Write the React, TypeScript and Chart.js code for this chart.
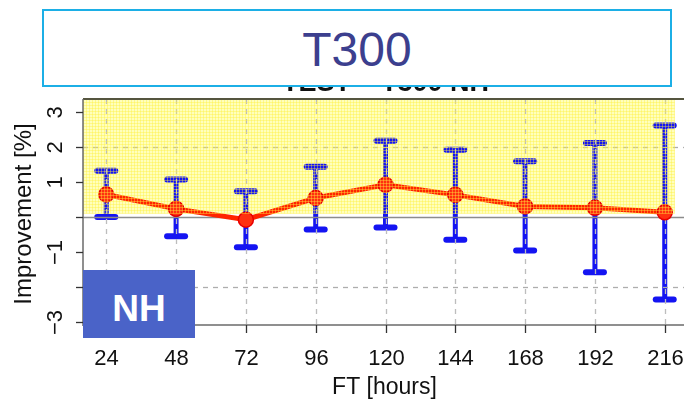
import React, { useEffect, useRef } from "react";
import { Chart, registerables } from "chart.js";

Chart.register(...registerables);

// Forecast lead times (hours) and the verification statistics per lead time
const forecastHours = [24, 48, 72, 96, 120, 144, 168, 192, 216];
const meanImprovement = [0.64, 0.23, -0.08, 0.54, 0.92, 0.63, 0.3, 0.26, 0.13];
const upperBound = [1.32, 1.07, 0.73, 1.43, 2.18, 1.92, 1.59, 2.11, 2.61];
const lowerBound = [0.0, -0.55, -0.87, -0.36, -0.3, -0.65, -0.96, -1.58, -2.36];

// Left-axis ticks; R drops the labels that would collide
const yTickValues = [3, 2, 1, 0, -1, -2, -3];
const yTickLabels = ["3", "2", "1", "", "\u22121", "", "\u22123"];
const dashedLevels = [2, -2];

const X_MIN = 16;
const X_MAX = 224;
const Y_MIN = -3.09;
const Y_MAX = 3.37;
const SHADE_X_END = 219.4;
const SHADE_Y_FLOOR = 0.1;

const FONT = "'Liberation Sans', Arial, Helvetica, sans-serif";

const panelPlugin = {
  id: "panel",
  beforeDatasetsDraw(chart: any) {
    const { ctx, chartArea: a, scales } = chart;
    const x = scales.x;
    const y = scales.y;
    ctx.save();

    // shaded "improvement" half of the panel
    const sl = a.left;
    const sr = x.getPixelForValue(SHADE_X_END);
    const sb = y.getPixelForValue(SHADE_Y_FLOOR);
    ctx.fillStyle = "#ffffbc";
    ctx.fillRect(sl, a.top, sr - sl, sb - a.top);

    // error bars
    ctx.strokeStyle = "#1414f2";
    ctx.lineCap = "round";
    const seg = (x1: number, y1: number, x2: number, y2: number) => {
      ctx.beginPath();
      ctx.moveTo(x1, y1);
      ctx.lineTo(x2, y2);
      ctx.stroke();
    };
    forecastHours.forEach((h, i) => {
      const px = x.getPixelForValue(h);
      const top = y.getPixelForValue(upperBound[i]);
      const bot = y.getPixelForValue(lowerBound[i]);
      ctx.lineWidth = 5;
      seg(px, top, px, bot);
      ctx.lineWidth = 6;
      seg(px - 9, top, px + 9, top);
      seg(px - 9, bot, px + 9, bot);
    });

    // grid
    ctx.lineCap = "butt";
    ctx.setLineDash([5, 5]);
    ctx.strokeStyle = "#bdbdbd";
    ctx.lineWidth = 1.3;
    forecastHours.forEach((h) => {
      const px = Math.round(x.getPixelForValue(h)) + 0.5;
      seg(px, a.top, px, a.bottom);
    });
    ctx.strokeStyle = "#adadad";
    dashedLevels.forEach((v) => {
      const py = Math.round(y.getPixelForValue(v)) + 0.5;
      seg(a.left, py, a.right, py);
    });
    ctx.setLineDash([]);
    ctx.strokeStyle = "#8c8c8c";
    ctx.lineWidth = 1.4;
    const z = Math.round(y.getPixelForValue(0)) + 0.5;
    seg(a.left, z, a.right, z);
    ctx.restore();
  },
  afterDatasetsDraw(chart: any) {
    const { ctx, chartArea: a, scales } = chart;
    const x = scales.x;
    const y = scales.y;
    ctx.save();

    // fine mesh texture over the shaded half
    const sl = a.left;
    const sr = x.getPixelForValue(SHADE_X_END);
    const sb = y.getPixelForValue(SHADE_Y_FLOOR);
    ctx.fillStyle = "rgba(255, 240, 60, 0.4)";
    for (let px = sl; px < sr; px += 3) ctx.fillRect(px, a.top, 1, sb - a.top);
    for (let py = a.top; py < sb; py += 3) ctx.fillRect(sl, py, sr - sl, 1);

    const seg = (x1: number, y1: number, x2: number, y2: number) => {
      ctx.beginPath();
      ctx.moveTo(x1, y1);
      ctx.lineTo(x2, y2);
      ctx.stroke();
    };

    // frame
    ctx.strokeStyle = "#55553f";
    ctx.lineWidth = 2;
    seg(a.left, a.top, a.right, a.top);
    ctx.strokeStyle = "#6a6a6a";
    ctx.lineWidth = 1.5;
    seg(a.left, a.top, a.left, a.bottom + 1);
    seg(a.left, a.bottom, a.right, a.bottom);

    // y ticks and rotated labels
    ctx.strokeStyle = "#333";
    ctx.lineWidth = 1.3;
    ctx.fillStyle = "#111";
    ctx.font = `22px ${FONT}`;
    ctx.textAlign = "center";
    ctx.textBaseline = "alphabetic";
    yTickValues.forEach((v, i) => {
      const py = Math.round(y.getPixelForValue(v)) + 0.5;
      seg(a.left - 7, py, a.left, py);
      if (yTickLabels[i]) {
        ctx.save();
        ctx.translate(a.left - 21, py);
        ctx.rotate(-Math.PI / 2);
        ctx.fillText(yTickLabels[i], 0, 0);
        ctx.restore();
      }
    });

    // x ticks and labels
    forecastHours.forEach((h) => {
      const px = Math.round(x.getPixelForValue(h)) + 0.5;
      seg(px, a.bottom, px, a.bottom + 8);
      ctx.fillText(String(h), px, a.bottom + 40);
    });

    // axis titles
    ctx.font = `23px ${FONT}`;
    ctx.fillText("FT [hours]", (a.left + a.right) / 2 - 1, 394);
    ctx.save();
    ctx.translate(31, 214);
    ctx.rotate(-Math.PI / 2);
    ctx.font = `24px ${FONT}`;
    ctx.fillText("Improvement [%]", 0, 0);
    ctx.restore();

    // panel heading
    ctx.font = `bold 27px ${FONT}`;
    ctx.fillText("TEST \u2013 T300 NH", (a.left + a.right) / 2, 91);

    ctx.restore();
  },
};

export default function App() {
  const canvasRef = useRef<HTMLCanvasElement | null>(null);

  useEffect(() => {
    const canvas = canvasRef.current;
    if (!canvas) return;
    const chart = new Chart(canvas, {
      type: "line",
      data: {
        datasets: [
          {
            label: "Improvement",
            data: forecastHours.map((h, i) => ({ x: h, y: meanImprovement[i] })),
            borderColor: "#ff2400",
            borderWidth: 5,
            pointRadius: 7.5,
            pointBackgroundColor: "#ff3010",
            pointBorderColor: "#e80000",
            pointBorderWidth: 1.5,
            tension: 0,
            clip: false as any,
          },
        ],
      },
      options: {
        responsive: false,
        animation: false,
        devicePixelRatio: 1,
        layout: { padding: { left: 83, top: 99, right: 12, bottom: 77 } },
        scales: {
          x: { type: "linear", min: X_MIN, max: X_MAX, display: false },
          y: { type: "linear", min: Y_MIN, max: Y_MAX, display: false },
        },
        plugins: {
          legend: { display: false },
          tooltip: { enabled: false },
          title: { display: false },
        },
      },
      plugins: [panelPlugin],
    });
    return () => chart.destroy();
  }, []);

  return (
    <div
      style={{
        position: "fixed",
        left: 0,
        top: 0,
        width: 684,
        height: 402,
        overflow: "hidden",
        background: "#ffffff",
      }}
    >
      <canvas
        ref={canvasRef}
        width={700}
        height={402}
        style={{ position: "absolute", left: 0, top: 0, width: 700, height: 402 }}
      />
      <div
        style={{
          position: "absolute",
          left: 42,
          top: 9,
          width: 630,
          height: 78,
          boxSizing: "border-box",
          border: "2px solid #1cafe6",
          background: "#ffffff",
          display: "flex",
          alignItems: "center",
          justifyContent: "center",
          paddingTop: 3,
          fontFamily: FONT,
          fontSize: 48,
          color: "#3c3f8e",
        }}
      >
        T300
      </div>
      <div
        style={{
          position: "absolute",
          left: 83,
          top: 270,
          width: 112,
          height: 68,
          boxSizing: "border-box",
          background: "#4a63c8",
          display: "flex",
          alignItems: "center",
          justifyContent: "center",
          paddingTop: 9,
          fontFamily: FONT,
          fontWeight: "bold",
          fontSize: 37,
          color: "#ffffff",
        }}
      >
        NH
      </div>
    </div>
  );
}
